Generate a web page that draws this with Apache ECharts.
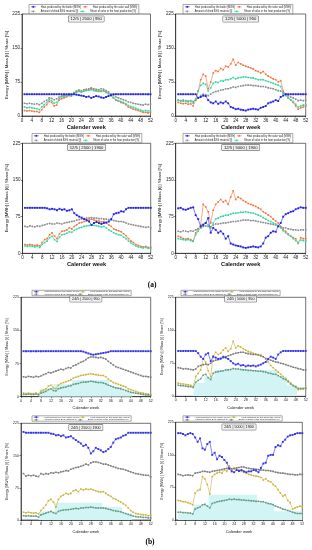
<!DOCTYPE html>
<html><head><meta charset="utf-8">
<script src="https://cdn.jsdelivr.net/npm/echarts@6/dist/echarts.min.js"></script>
<style>html,body{margin:0;padding:0;background:#fff}#c{width:312px;height:550px}</style>
</head><body><div id="c"></div>
<script>
const weeks = [1,2,3,4,5,6,7,8,9,10,11,12,13,14,15,16,17,18,19,20,21,22,23,24,25,26,27,28,29,30,31,32,33,34,35,36,37,38,39,40,41,42,43,44,45,46,47,48,49,50,51,52];
const seriesNames = ['Heat produced by the boiler [MWh]','Heat produced by the solar wall [MWh]','Amount of dried BXG material [t]','Share of solar in the heat production [%]'];
const panelTitles = ['12/5 | 2500 | 950','12/5 | 5000 | 950','12/5 | 2500 | 1900','12/5 | 5000 | 1900','24/5 | 2500 | 950','24/5 | 5000 | 950','24/5 | 2500 | 1900','24/5 | 5000 | 1900'];
const xTicks = {min:0, max:52, interval:4};
const yTicks = {min:0, max:225, interval:75};

// Panel 1: 12/5 | 2500 | 950
const boiler1 = [48,48,48,48,48,48,48,48,48,48,48,48,48,48,48,48,48,48,48,48,48,47,46,45,44,42,43,40,42,44,43,41,40,42,44,46,48,48,48,48,48,48,48,48,48,48,48,48,48,48,48,48];
const solar1 = [12,11,12,11,10,10,8,14,20,25,32,30,22,24,35,38,40,42,45,44,50,52,55,53,56,57,58,60,57,56,55,55,56,53,50,45,40,35,33,30,28,25,20,18,15,14,12,10,8,8,7,8];
const dried1 = [28,27,28,27,26,27,25,28,32,35,40,39,36,38,42,44,45,46,48,47,52,55,57,56,58,59,60,62,60,59,58,60,59,56,53,49,45,42,40,38,36,34,31,30,28,27,26,25,24,26,25,26];
const share1 = [20,18,19,18,17,16,14,20,25,30,36,34,28,30,38,42,43,44,46,45,50,52,54,53,55,56,57,58,56,55,54,54,55,52,49,45,40,36,34,32,30,27,23,21,19,17,15,13,11,12,11,12];
// Panel 2: 12/5 | 5000 | 950
const boiler2 = [48,48,48,48,48,48,48,48,40,42,45,44,35,30,28,32,27,30,28,32,28,20,18,15,16,14,13,12,14,15,16,15,14,18,20,22,28,30,32,35,33,42,45,48,48,48,48,48,48,48,48,48];
const solar2 = [30,28,27,28,26,27,22,35,55,80,92,88,60,75,95,100,98,105,102,110,108,115,125,112,118,115,112,110,108,106,104,100,98,95,98,92,88,85,82,80,75,78,55,48,40,35,30,22,15,18,20,22];
const dried2 = [35,34,35,34,33,34,32,36,40,45,48,47,45,48,52,54,55,57,58,60,60,62,64,63,65,66,67,68,68,68,67,67,66,65,65,64,62,61,60,58,56,55,50,48,45,42,40,37,34,35,34,35];
const share2 = [35,33,32,33,31,32,28,38,55,68,72,70,55,62,72,75,74,78,77,80,80,82,85,82,84,85,86,86,85,84,84,82,80,80,80,78,76,74,72,70,68,65,52,45,40,36,32,26,20,22,24,25];
// Panel 3: 12/5 | 2500 | 1900
const boiler3 = [93,93,93,93,93,93,93,93,93,92,90,91,90,88,91,89,90,87,88,90,82,78,75,73,70,68,65,58,62,64,62,60,62,63,65,70,80,82,83,86,85,90,93,93,93,93,93,93,93,93,93,93];
const solar3 = [18,17,18,17,16,17,15,22,28,30,38,42,35,30,40,45,46,48,52,50,55,58,62,63,65,66,68,70,68,67,66,64,65,62,58,55,50,48,46,44,40,36,30,25,22,18,16,14,13,14,12,12];
const dried3 = [55,54,56,55,54,56,55,57,58,60,61,60,60,62,61,60,62,63,64,65,66,68,69,70,71,72,72,73,72,72,71,71,70,70,69,68,67,66,65,65,64,62,60,59,58,57,56,55,54,53,54,52];
const share3 = [15,14,15,14,13,14,12,18,22,25,32,35,28,24,33,38,39,41,44,43,47,49,52,53,55,56,57,58,57,56,55,54,55,52,48,45,42,40,38,37,33,30,25,21,18,15,13,12,11,12,10,10];
// Panel 4: 12/5 | 5000 | 1900
const boiler4 = [92,93,90,89,91,93,94,78,70,55,58,62,72,42,52,48,42,45,40,30,35,20,18,16,15,14,12,11,12,13,14,13,12,14,20,32,35,42,45,44,55,62,75,80,82,85,86,90,92,94,93,93];
const solar4 = [35,33,30,29,30,28,25,42,50,58,100,95,85,62,88,100,105,110,105,108,100,115,128,110,115,112,108,105,102,100,98,96,93,90,85,82,78,75,70,66,62,55,48,45,40,35,32,30,20,32,30,30];
const dried4 = [45,44,46,45,44,46,45,48,50,52,55,56,55,54,58,60,60,61,62,62,63,64,65,65,66,67,68,68,68,67,67,66,65,64,63,62,61,60,59,58,56,54,52,52,50,49,48,48,47,48,48,48];
const share4 = [30,29,28,27,28,26,24,38,45,52,60,62,58,52,62,70,72,75,76,78,78,80,82,82,83,84,84,85,84,83,82,80,78,76,73,70,67,65,62,60,57,52,46,42,38,35,30,26,22,27,26,25];
// Panel 5: 24/5 | 2500 | 950
const boiler5 = [103,103,103,103,103,103,103,103,103,103,103,103,103,103,103,103,103,103,103,103,103,103,103,103,102,100,98,96,95,96,97,98,99,100,101,103,103,103,103,103,103,103,103,103,103,103,103,103,103,103,103,103];
const solar5 = [8,7,8,7,7,8,6,12,15,18,24,26,20,18,26,30,32,34,36,38,42,44,46,48,49,50,51,52,51,50,49,48,48,45,40,36,32,30,28,26,24,22,18,16,14,12,10,9,8,7,6,5];
const dried5 = [45,44,46,45,44,46,45,47,50,52,55,54,56,58,60,62,61,64,66,65,70,72,75,78,80,84,88,90,90,89,88,89,87,85,80,76,72,68,66,64,62,60,58,56,54,52,50,48,46,46,45,44];
const share5 = [5,5,6,5,5,6,4,8,10,12,16,18,14,13,18,20,21,22,24,25,28,29,30,32,33,33,34,35,34,33,32,32,31,29,26,24,22,20,19,18,16,14,12,10,9,8,7,6,5,4,4,3];
const band5 = [0,0,0,0,0,0,0,18,18,18,18,18,28,28,28,28,28,28,28,28,38,38,38,38,38,38,38,38,38,38,38,38,38,38,38,22,22,22,22,22,12,12,12,12,0,0,0,0,0,0,0,0];
// Panel 6: 24/5 | 5000 | 950
const boiler6 = [103,103,103,103,103,103,103,103,98,90,85,95,98,80,90,88,85,86,90,88,85,80,75,72,74,70,71,68,70,69,70,68,70,72,75,78,85,90,88,85,95,100,103,103,103,103,103,103,103,103,103,103];
const solar6 = [30,28,28,27,26,25,22,45,52,60,85,78,58,45,92,100,95,98,105,110,102,108,125,110,115,112,108,105,102,100,98,96,95,94,90,85,78,70,65,60,55,50,45,40,35,30,25,20,15,16,18,20];
const dried6 = [65,64,62,63,62,61,60,62,68,70,72,73,72,75,80,82,83,85,88,90,92,94,96,98,99,100,100,98,97,96,95,95,94,92,90,86,84,82,80,78,77,75,74,72,70,68,66,65,63,62,60,60];
const share6 = [25,24,24,23,22,22,20,32,36,40,48,50,42,38,52,55,56,57,58,60,60,61,63,62,62,61,60,60,59,59,58,58,57,57,56,55,53,52,50,50,47,44,40,38,33,28,24,22,18,18,17,18];
const band6 = [0,0,0,0,0,0,0,30,30,30,30,45,45,45,45,60,60,60,60,60,60,60,60,60,60,60,60,60,60,60,60,60,60,60,60,60,60,60,60,60,45,45,45,45,25,25,25,25,0,0,0,0];
// Panel 7: 24/5 | 2500 | 1900
const boiler7 = [205,203,203,203,203,203,203,203,203,203,203,201,200,197,198,195,197,192,193,195,190,186,182,178,172,175,168,155,160,168,165,162,158,160,165,170,180,188,190,192,196,198,203,203,203,203,203,203,203,203,203,203];
const solar7 = [18,17,18,17,16,17,14,22,28,35,45,48,42,30,48,55,58,62,60,62,68,70,66,72,70,72,71,72,70,68,66,65,66,62,58,55,50,48,45,42,38,34,28,22,18,15,14,13,12,12,10,11];
const dried7 = [108,102,104,103,104,102,101,108,106,108,107,110,109,111,110,112,113,115,114,118,120,122,123,125,127,130,128,133,135,135,134,132,130,130,128,126,124,122,120,119,118,116,114,112,110,108,107,106,105,104,104,100];
const share7 = [10,9,10,9,9,9,7,12,14,16,18,20,17,15,20,22,23,24,24,25,26,27,26,28,28,29,29,30,29,28,28,28,28,27,25,24,22,21,20,19,17,15,13,11,9,8,7,7,6,6,5,5];
const band7 = [0,0,0,0,0,0,0,20,20,20,20,20,20,40,40,40,40,40,40,40,40,40,40,40,40,40,40,40,40,40,40,40,30,30,30,30,30,30,30,30,15,15,15,15,0,0,0,0,0,0,0,0];
// Panel 8: 24/5 | 5000 | 1900
const boiler8 = [200,200,198,195,198,200,198,190,180,188,165,162,175,180,150,155,140,148,145,138,132,118,112,110,115,113,115,112,110,112,112,115,114,110,120,130,132,148,150,150,168,172,170,180,185,192,195,196,198,200,200,200];
const solar8 = [45,44,42,42,40,38,35,62,68,70,100,95,82,60,100,105,108,110,108,115,112,125,115,120,118,115,112,110,108,105,104,102,101,100,98,92,95,90,88,82,78,70,62,55,58,45,40,25,28,30,32,30];
const dried8 = [105,104,102,103,104,103,102,108,109,110,112,112,111,110,112,113,114,115,116,118,119,120,118,118,120,121,122,122,120,119,118,118,117,116,115,115,114,114,113,112,110,109,108,108,107,106,105,105,104,104,105,105];
const share8 = [18,18,17,17,16,16,14,25,28,30,35,36,32,28,38,40,42,43,44,45,46,48,47,48,47,47,46,46,45,45,44,44,43,43,42,42,40,38,37,35,32,30,28,25,24,22,20,18,16,15,15,15];
const band8 = [15,15,15,15,15,15,15,35,35,35,35,35,35,58,58,58,58,58,58,58,58,58,58,58,58,58,58,58,58,58,58,58,58,40,40,40,40,40,40,40,20,20,20,20,20,20,20,20,20,20,20,20];

const panelData = [
  [boiler1, solar1, dried1, share1, null],
  [boiler2, solar2, dried2, share2, null],
  [boiler3, solar3, dried3, share3, null],
  [boiler4, solar4, dried4, share4, null],
  [boiler5, solar5, dried5, share5, band5],
  [boiler6, solar6, dried6, share6, band6],
  [boiler7, solar7, dried7, share7, band7],
  [boiler8, solar8, dried8, share8, band8]
];

// layout (pixels) and styles
const layout = [
  {l:22,    t:14,    w:128.5, h:102,   lgx:29,  lgy:4.5,   tty:19,    g:'a'},
  {l:175.7, t:14,    w:130,   h:102,   lgx:183, lgy:4.5,   tty:19,    g:'a'},
  {l:22.5,  t:143.3, w:128.2, h:110,   lgx:32,  lgy:133.5, tty:147.5, g:'a'},
  {l:175.7, t:143.3, w:130,   h:110,   lgx:183, lgy:133.5, tty:147.5, g:'a'},
  {l:21,    t:297.3, w:129.7, h:99.4,  lgx:32,  lgy:290.3, tty:299,   g:'b'},
  {l:175.7, t:297.3, w:130,   h:99,    lgx:181, lgy:290.3, tty:299,   g:'b'},
  {l:21,    t:423.3, w:129.7, h:96.7,  lgx:32,  lgy:415.8, tty:427.5, g:'b'},
  {l:175.7, t:422.3, w:126.6, h:97.7,  lgx:183, lgy:415.8, tty:427,   g:'b'}
];
const colors = {
  a: ['#2222e6', '#f3713b', '#8c8c8c', '#2fd9a2'],
  b: ['#3434e8', '#cdb13a', '#7c7c7c', '#5f9c88']
};
const bandColor = '#d3f4f4';
const FONT = 'Liberation Sans';

const grid = [], xAxis = [], yAxis = [], series = [], legend = [], graphic = [];
layout.forEach((L, i) => {
  const isA = L.g === 'a';
  const cols = colors[L.g];
  grid.push({left:L.l, top:L.t, width:L.w, height:L.h, show:true, borderColor:'#111', borderWidth:0.6, containLabel:false});
  xAxis.push({
    type:'value', gridIndex:i, min:xTicks.min, max:xTicks.max, interval:xTicks.interval,
    name:'Calender week', nameLocation:'middle', nameGap: isA ? 8.5 : 9.5,
    nameTextStyle:{fontSize: isA ? 5.6 : 4, color:'#111', fontFamily:FONT, fontWeight: isA ? 'bold' : 'normal'},
    axisLine:{lineStyle:{color:'#111', width:0.6}},
    axisTick:{show:true, length:1.5, lineStyle:{width:0.5, color:'#111'}},
    axisLabel:{fontSize: isA ? 4.6 : 3.6, margin:2, color:'#222', fontFamily:FONT},
    splitLine:{show:false}
  });
  yAxis.push({
    type:'value', gridIndex:i, min:yTicks.min, max:yTicks.max, interval:yTicks.interval,
    name:'Energy [MWh] | Mass [t] | Share [%]', nameLocation:'middle', nameGap: isA ? 12 : 11.5,
    nameTextStyle:{fontSize: isA ? 4.3 : 3.6, color:'#111', fontFamily:FONT},
    axisLine:{lineStyle:{color:'#111', width:0.6}},
    axisTick:{show:true, length:1.5, lineStyle:{width:0.5, color:'#111'}},
    axisLabel:{fontSize: isA ? 4.6 : 3.6, margin:2, color:'#222', fontFamily:FONT},
    splitLine:{show:false}
  });
  const pd = panelData[i];
  if (pd[4]) {
    series.push({
      type:'line', xAxisIndex:i, yAxisIndex:i, step:'middle', symbol:'none', silent:true,
      data: pd[4].map((v,k)=>[weeks[k], v]),
      lineStyle:{width:0, color:bandColor}, areaStyle:{color:bandColor, opacity:1}, z:1
    });
  }
  for (let j = 0; j < 4; j++) {
    series.push({
      type:'line', name:seriesNames[j], xAxisIndex:i, yAxisIndex:i,
      data: pd[j].map((v,k)=>[weeks[k], v]),
      symbol:'rect', symbolSize: j === 0 ? 1.9 : 1.6, showSymbol:true,
      lineStyle:{width:0.6, color:cols[j], type: (j===2 && isA) ? [1.5,0.8] : 'solid'},
      itemStyle:{color:cols[j]}, z:3 + (j===0 ? 2 : 0)
    });
  }
  legend.push({
    left:L.lgx, top:L.lgy, width:125, orient:'horizontal', selectedMode:false,
    itemWidth:5, itemHeight:2.2, itemGap: isA ? 1.6 : 0.6,
    padding: isA ? [0.8,1.5] : [0.4,1.5],
    borderColor:'#555', borderWidth:0.5, backgroundColor:'#fff',
    textStyle:{fontSize: isA ? 2.6 : 2.3, color:'#222', fontFamily:FONT},
    data: seriesNames.map((n,j)=>({name:n, itemStyle:{color:cols[j]}, lineStyle:{color:cols[j], width:0.6}}))
  });
  graphic.push({
    type:'text', x: L.l + L.w/2, y: L.tty, z:50,
    style:{text:panelTitles[i], align:'center', verticalAlign:'middle',
      font:(isA ? '4.2px ' : '3.7px ') + FONT, fill:'#111',
      backgroundColor:'#f0f0f0', borderColor:'#555', borderWidth:0.5, padding:[0.8,2]}
  });
});
graphic.push({type:'text', x:152, y:285, style:{text:'(a)', align:'center', verticalAlign:'middle', font:'bold 7.5px Liberation Serif', fill:'#000'}});
graphic.push({type:'text', x:150, y:542, style:{text:'(b)', align:'center', verticalAlign:'middle', font:'bold 7.5px Liberation Serif', fill:'#000'}});

const chart = echarts.init(document.getElementById('c'), null, {renderer:'canvas'});
chart.setOption({animation:false, backgroundColor:'#fff', grid, xAxis, yAxis, series, legend, graphic});
</script>
</body></html>
